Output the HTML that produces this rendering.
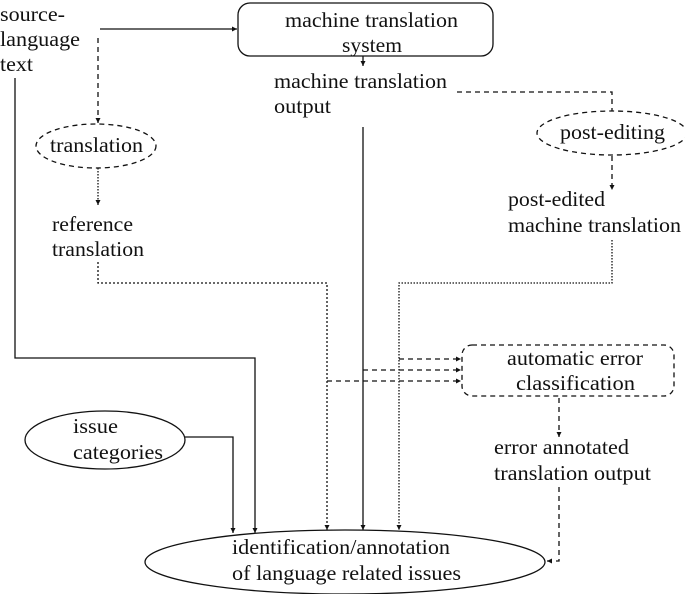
<!DOCTYPE html>
<html><head><style>body{margin:0;background:#fff}svg{display:block}text{font-family:"Liberation Serif","Times New Roman","DejaVu Serif",serif;font-size:21px;fill:#111}</style></head><body>
<svg width="685" height="594" viewBox="0 0 685 594" xmlns="http://www.w3.org/2000/svg">
<defs><marker id="a" markerWidth="6" markerHeight="6" refX="5" refY="3" orient="auto" markerUnits="userSpaceOnUse"><path d="M0,0.5 L5,3 L0,5.5 z" fill="#111"/></marker></defs>
<g fill="none" stroke="#111" stroke-width="1.3">
<rect x="238" y="3" width="255" height="53" rx="12"/>
<ellipse cx="96" cy="146" rx="60" ry="22" stroke-dasharray="5,4"/>
<ellipse cx="612" cy="133" rx="75" ry="22" stroke-dasharray="5,4"/>
<rect x="462" y="345" width="212" height="51" rx="10" stroke-dasharray="5,4"/>
<ellipse cx="105" cy="440" rx="80" ry="29"/>
<ellipse cx="345" cy="562" rx="200" ry="32"/>
<path d="M100 29 H237" marker-end="url(#a)"/>
<path d="M98 38 V123" stroke-dasharray="5,4" marker-end="url(#a)"/>
<path d="M98 168 V205" stroke-dasharray="1.5,1.5" marker-end="url(#a)"/>
<path d="M98 262 V283 H327 V530" stroke-dasharray="2,2" marker-end="url(#a)"/>
<path d="M15 78 V358 H255 V533" marker-end="url(#a)"/>
<path d="M363 56 V66" marker-end="url(#a)"/>
<path d="M363 127 V530" marker-end="url(#a)"/>
<path d="M457 92 H612 V111" stroke-dasharray="5,4"/>
<path d="M612 156 V190" stroke-dasharray="5,4" marker-end="url(#a)"/>
<path d="M612 240 V283 H399 V530" stroke-dasharray="1.5,1.5" marker-end="url(#a)"/>
<path d="M399 359 H461" stroke-dasharray="5,4" marker-end="url(#a)"/>
<path d="M363 370 H461" stroke-dasharray="5,4" marker-end="url(#a)"/>
<path d="M327 381 H461" stroke-dasharray="5,4" marker-end="url(#a)"/>
<path d="M559 398 V437" stroke-dasharray="5,4" marker-end="url(#a)"/>
<path d="M559 487 V561 H547" stroke-dasharray="5,4" marker-end="url(#a)"/>
<path d="M185 437 H233 V533" marker-end="url(#a)"/>
</g>
<g>
<text x="0" y="21" textLength="65" lengthAdjust="spacingAndGlyphs">source-</text>
<text x="0" y="46" textLength="80" lengthAdjust="spacingAndGlyphs">language</text>
<text x="0" y="71" textLength="33" lengthAdjust="spacingAndGlyphs">text</text>
<text x="285" y="27" textLength="173" lengthAdjust="spacingAndGlyphs">machine translation</text>
<text x="342" y="52" textLength="60" lengthAdjust="spacingAndGlyphs">system</text>
<text x="274" y="88" textLength="173" lengthAdjust="spacingAndGlyphs">machine translation</text>
<text x="274" y="113" textLength="57" lengthAdjust="spacingAndGlyphs">output</text>
<text x="50" y="152" textLength="93" lengthAdjust="spacingAndGlyphs">translation</text>
<text x="560" y="139" textLength="105" lengthAdjust="spacingAndGlyphs">post-editing</text>
<text x="52" y="231" textLength="81" lengthAdjust="spacingAndGlyphs">reference</text>
<text x="52" y="256" textLength="92" lengthAdjust="spacingAndGlyphs">translation</text>
<text x="508" y="206" textLength="97" lengthAdjust="spacingAndGlyphs">post-edited</text>
<text x="508" y="232" textLength="173" lengthAdjust="spacingAndGlyphs">machine translation</text>
<text x="507" y="365" textLength="136" lengthAdjust="spacingAndGlyphs">automatic error</text>
<text x="516" y="390" textLength="119" lengthAdjust="spacingAndGlyphs">classification</text>
<text x="494" y="454" textLength="135" lengthAdjust="spacingAndGlyphs">error annotated</text>
<text x="494" y="480" textLength="157" lengthAdjust="spacingAndGlyphs">translation output</text>
<text x="73" y="433" textLength="45" lengthAdjust="spacingAndGlyphs">issue</text>
<text x="73" y="459" textLength="90" lengthAdjust="spacingAndGlyphs">categories</text>
<text x="232" y="554" textLength="218" lengthAdjust="spacingAndGlyphs">identification/annotation</text>
<text x="232" y="580" textLength="229" lengthAdjust="spacingAndGlyphs">of language related issues</text>
</g>
</svg>
</body></html>
